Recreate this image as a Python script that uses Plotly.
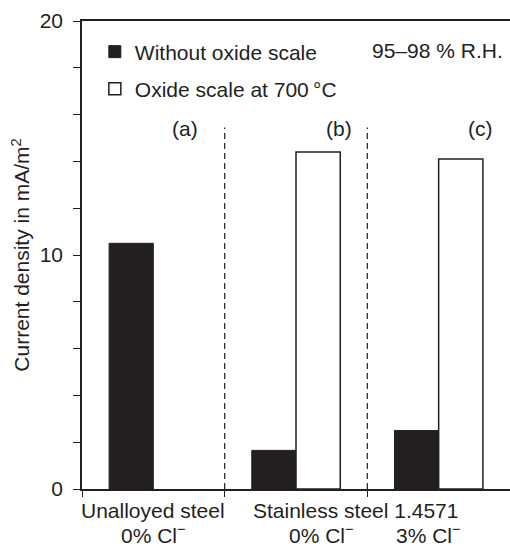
import plotly.graph_objects as go

# Data
groups = ["Unalloyed steel", "Stainless steel 0% Cl", "Stainless steel 3% Cl"]
x_pos = [0, 1, 2]
without_oxide = [10.5, 1.65, 2.5]
oxide_700 = [None, 14.4, 14.1]
series_names = ["Without oxide scale", "Oxide scale at 700\u2009°C"]
panel_labels = ["(a)", "(b)", "(c)"]

INK = "#231f20"
FONT = "Liberation Sans, Arial, Helvetica, sans-serif"
FS = 21

fig = go.Figure()
fig.add_trace(go.Bar(
    x=x_pos, y=without_oxide, name=series_names[0],
    marker=dict(color=INK, line=dict(color=INK, width=1)),
    legend="legend",
))
fig.add_trace(go.Bar(
    x=x_pos, y=oxide_700, name=series_names[1],
    marker=dict(color="white", line=dict(color=INK, width=1.5)),
    legend="legend2",
))

# group separators (dashed)
for xb in [0.5, 1.5]:
    fig.add_shape(type="line", x0=xb, x1=xb, y0=0, y1=15.45, xref="x", yref="y",
                  line=dict(color=INK, width=1.2, dash="6px,4px"), layer="below")

def tfont():
    return dict(size=FS, color=INK, family=FONT)

annotations = []
for xi, lab in zip([0.22, 1.30, 2.29], panel_labels):
    annotations.append(dict(x=xi, y=15.4, xref="x", yref="y", text=lab, showarrow=False,
                            yanchor="middle", font=tfont()))
annotations.append(dict(x=(505 - 82) / 428, y=(489 - 50) / 468, xref="paper", yref="paper",
                        text="95–98 % R.H.", showarrow=False, xanchor="right",
                        yanchor="middle", font=tfont()))

# category labels
cat_labels = [
    (0.0, -0.047, "Unalloyed steel"),
    (1.42, -0.047, "Stainless steel 1.4571"),
    (0.0, -0.096, "0% Cl<sup>−</sup>"),
    (1.18, -0.096, "0% Cl<sup>−</sup>"),
    (1.93, -0.096, "3% Cl<sup>−</sup>"),
]
for xi, yp, txt in cat_labels:
    annotations.append(dict(x=xi, y=yp, xref="x", yref="paper", text=txt, showarrow=False,
                            yanchor="middle", font=tfont()))

fig.update_layout(
    width=510, height=547,
    margin=dict(l=82, r=0, t=21, b=58, autoexpand=False),
    paper_bgcolor="white", plot_bgcolor="white",
    barmode="group", bargap=0.38, bargroupgap=0,
    font=tfont(),
    showlegend=True,
    legend=dict(x=0.03, y=(489 - 52) / 468, xanchor="left", yanchor="middle",
                bgcolor="rgba(0,0,0,0)", font=tfont()),
    legend2=dict(x=0.03, y=(489 - 89) / 468, xanchor="left", yanchor="middle",
                 bgcolor="rgba(0,0,0,0)", font=tfont()),
    annotations=annotations,
    xaxis=dict(range=[-0.5, 2.5], tickvals=[-0.5, 0.5, 1.5, 2.5], showticklabels=False,
               ticks="outside", ticklen=6, tickwidth=1.2, tickcolor=INK,
               showline=True, linecolor=INK, linewidth=1.5, mirror=True,
               showgrid=False, zeroline=False),
    yaxis=dict(range=[0, 20], tickvals=[0, 10, 20], ticks="outside", ticklen=7,
               tickwidth=1.2, tickcolor=INK, ticklabelstandoff=6,
               minor=dict(dtick=2, ticks="outside", ticklen=7, tickwidth=1.2, tickcolor=INK),
               showline=True, linecolor=INK, linewidth=1.5, showgrid=False, zeroline=False,
               title=dict(text="Current density in mA/m<sup>2</sup>", standoff=4,
                          font=tfont()),
               tickfont=tfont()),
)

fig.write_html(
    "out.html",
    config={"displayModeBar": False},
    post_script="document.body.style.margin='0';document.body.style.overflow='hidden';"
                "document.documentElement.style.overflow='hidden';",
)
